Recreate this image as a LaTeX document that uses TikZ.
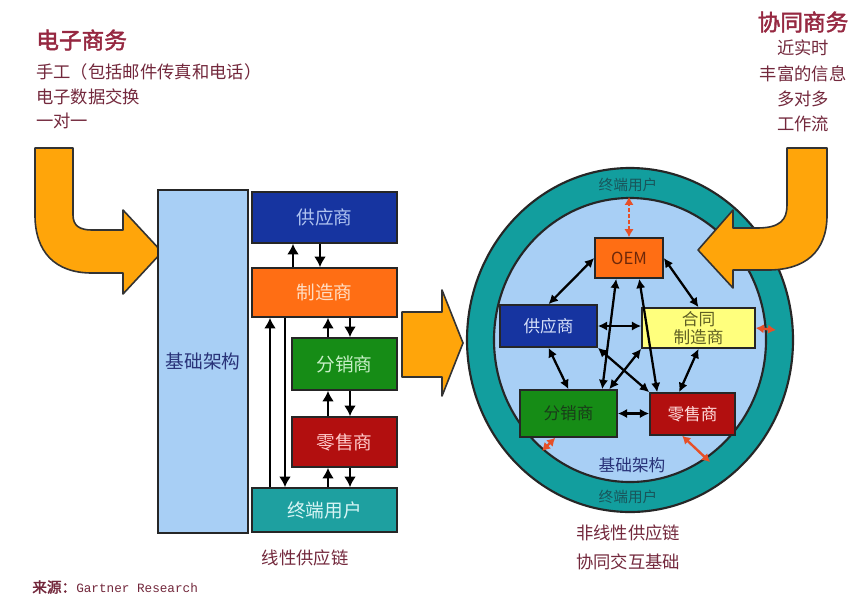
\documentclass[tikz,border=0pt]{standalone}
\usepackage{fontspec}
\setmainfont[AutoFakeBold=2]{Noto Sans CJK SC}
\setmonofont{Liberation Mono}
\usetikzlibrary{shapes.geometric,arrows.meta,fit}
\definecolor{titred}{RGB}{150,40,65}
\definecolor{txtred}{RGB}{115,40,60}
\definecolor{lblue}{RGB}{168,207,245}
\definecolor{dblue}{RGB}{22,52,160}
\definecolor{orbox}{RGB}{255,110,20}
\definecolor{grbox}{RGB}{22,140,22}
\definecolor{rdbox}{RGB}{178,15,15}
\definecolor{tlbox}{RGB}{30,160,160}
\definecolor{ringteal}{RGB}{18,158,158}
\definecolor{ylbox}{RGB}{255,255,125}
\definecolor{orarrow}{RGB}{255,165,10}
\definecolor{redsm}{RGB}{230,80,40}
\definecolor{ringtxt}{RGB}{25,85,90}
\definecolor{infra}{RGB}{40,50,120}
\newcommand\pxu[1]{#1*0.75pt}
\tikzset{
  box/.style={draw=black!85, line width=1.2pt, inner sep=0pt},
  arr/.style={line width=2.2pt, -{Latex[length=8pt,width=9pt]}},
  darr/.style={line width=1.7pt, {Latex[length=7pt,width=7pt]}-{Latex[length=7pt,width=7pt]}},
  redarr/.style={redsm, line width=1.8pt, {Latex[length=6pt,width=7pt]}-{Latex[length=6pt,width=7pt]}},
  bigarrow/.style={fill=orarrow, draw=black!80, line width=1.2pt, line join=round},
  lft/.style={anchor=west, inner sep=0pt, text=txtred, font=\fontsize{13pt}{15pt}\selectfont},
  rgt/.style={inner sep=0pt, text=txtred, font=\fontsize{13pt}{15pt}\selectfont},
  lblL/.style={font=\fontsize{14pt}{16pt}\selectfont, inner sep=0pt},
  lblC/.style={font=\fontsize{12.5pt}{14pt}\selectfont, align=center, inner sep=0pt}
}
\begin{document}
\begin{tikzpicture}[x=0.75pt,y=-0.75pt]
\useasboundingbox[fill=white] (0,0) rectangle (855,604);

% ---- top texts
\node[lft, text=titred, font=\fontsize{17pt}{19pt}\selectfont\bfseries] (ec) at (36,40) {电子商务};
\node[lft] (ec1) at (36,72) {手工（包括邮件传真和电话）};
\node[lft] (ec2) at (36,97) {电子数据交换};
\node[lft] (ec3) at (36,121) {一对一};

\node[rgt, text=titred, font=\fontsize{17pt}{19pt}\selectfont\bfseries] (cc) at (803,22) {协同商务};
\node[rgt] (cc1) at (803,48) {近实时};
\node[rgt] (cc2) at (803,74) {丰富的信息};
\node[rgt] (cc3) at (803,99) {多对多};
\node[rgt] (cc4) at (803,124) {工作流};

% ---- left orange arrow
\path[bigarrow] (35,148) -- (73,148) -- (73,215) .. controls (73,226) and (80,230) .. (92,230)
  -- (123,230) -- (123,210) -- (162,252) -- (123,294) -- (123,273) -- (92,273)
  .. controls (55,273) and (35,252) .. (35,215) -- cycle;

% ---- left panel
\node[box, fill=lblue, fit={(158,190)(248,533)}, label={[lblL, text=infra]center:基础架构}] (jc) {};
\node[box, fill=dblue, fit={(252,192)(397,243)}, label={[lblL, text={rgb,255:red,175;green,195;blue,240}]center:供应商}] (gy) {};
\node[box, fill=orbox, fit={(252,268)(397,317)}, label={[lblL, text={rgb,255:red,255;green,222;blue,195}]center:制造商}] (zz) {};
\node[box, fill=grbox, fit={(292,338)(397,390)}, label={[lblL, text={rgb,255:red,200;green,240;blue,200}]center:分销商}] (fx) {};
\node[box, fill=rdbox, fit={(292,417)(397,467)}, label={[lblL, text={rgb,255:red,255;green,200;blue,200}]center:零售商}] (ls) {};
\node[box, fill=tlbox, fit={(252,488)(397,532)}, label={[lblL, text={rgb,255:red,215;green,245;blue,245}]center:终端用户}] (zd) {};

\coordinate (c1) at (293,0); \coordinate (c2) at (320,0);
\coordinate (c3) at (328,0); \coordinate (c4) at (350,0);
\coordinate (c5) at (270,0); \coordinate (c6) at (285,0);
\draw[arr] (zz.north -| c1) -- (gy.south -| c1);
\draw[arr] (gy.south -| c2) -- (zz.north -| c2);
\draw[arr] (fx.north -| c3) -- (zz.south -| c3);
\draw[arr] (zz.south -| c4) -- (fx.north -| c4);
\draw[arr] (ls.north -| c3) -- (fx.south -| c3);
\draw[arr] (fx.south -| c4) -- (ls.north -| c4);
\draw[arr] (zd.north -| c3) -- (ls.south -| c3);
\draw[arr] (ls.south -| c4) -- (zd.north -| c4);
\draw[arr] (zd.north -| c5) -- (zz.south -| c5);
\draw[arr] (zz.south -| c6) -- (zd.north -| c6);

\node[rgt] (lin) at (305,558) {线性供应链};

% ---- middle arrow
\path[bigarrow] (402,312) -- (442,312) -- (442,290) -- (463,343) -- (442,396) -- (442,377) -- (402,377) -- cycle;

% ---- ring
\node[ellipse, draw=black!85, line width=1.6pt, fill=ringteal, minimum width=\pxu{326}, minimum height=\pxu{344}, inner sep=0pt] (ring) at (630,340) {};
\node[ellipse, draw=black!85, line width=1.6pt, fill=lblue, minimum width=\pxu{272}, minimum height=\pxu{284}, inner sep=0pt] (inner) at (630,340) {};
\node[text=ringtxt, font=\fontsize{11pt}{12pt}\selectfont] (rt) at (628,185) {终端用户};
\node[text=ringtxt, font=\fontsize{11pt}{12pt}\selectfont] (rb) at (628,497) {终端用户};

% ---- right orange arrow
\path[bigarrow] (787,148) -- (827,148) -- (827,215) .. controls (827,252) and (805,270) .. (768,270)
  -- (733,270) -- (733,288) -- (698,250) -- (733,210) -- (733,228) -- (757,228)
  .. controls (780,228) and (787,220) .. (787,205) -- cycle;

% ---- inner boxes
\node[box, fill=orbox, fit={(595,238)(663,278)}, label={[lblC, text={rgb,255:red,110;green,40;blue,10}]center:OEM}] (oem) {};
\node[box, fill=dblue, fit={(500,305)(597,347)}, label={[lblC, text={rgb,255:red,215;green,225;blue,250}]center:供应商}] (gy2) {};
\node[box, fill=ylbox, fit={(642,308)(755,348)}] (hz) {};
\node[lblC, font=\fontsize{12.5pt}{14pt}\selectfont, text={rgb,255:red,95;green,95;blue,35}] (hzt) at (hz.center) {合同\\制造商};
\node[box, fill=grbox, fit={(520,390)(617,437)}, label={[lblC, text={rgb,255:red,25;green,60;blue,25}]center:分销商}] (fx2) {};
\node[box, fill=rdbox, fit={(650,393)(735,435)}, label={[lblC, text={rgb,255:red,255;green,220;blue,220}]center:零售商}] (ls2) {};
\node[text=infra, font=\fontsize{12.5pt}{14pt}\selectfont] (jc2) at (632,465) {基础架构};

% ---- network
\draw[darr] (oem.west) -- (gy2.north);
\draw[darr] (oem.east) -- (hz.north);
\draw[darr] ([xshift=\pxu{22}]oem.south west) -- ([xshift=\pxu{83}]fx2.north west);
\draw[darr] ([xshift=\pxu{45}]oem.south west) -- ([xshift=\pxu{8}]ls2.north west);
\draw[darr] (gy2.east) -- (gy2.east -| hz.west);
\draw[darr] (gy2.south) -- (fx2.north);
\draw[darr] (hz.south) -- ([xshift=\pxu{30}]ls2.north west);
\draw[darr] (gy2.south east) -- (ls2.north west);
\draw[darr] (hz.south west) -- ([xshift=\pxu{90}]fx2.north west);
\draw[darr] (fx2.east) -- (fx2.east -| ls2.west);

% ---- red links to the ring
\draw[redarr, dashed, dash pattern=on 3pt off 1.5pt] (oem.north) -- (oem.north |- inner.north);
\coordinate (hzR) at (776,330);
\draw[redarr] (hz.east) -- (hzR);
\coordinate (fxR) at (542,451);
\draw[redarr] ([xshift=\pxu{36}]fx2.south west) -- (fxR);
\coordinate (lsR) at (710,462);
\draw[redarr] ([xshift=\pxu{33}]ls2.south west) -- (lsR);

% ---- bottom texts
\node[rgt] (nl1) at (628,533) {非线性供应链};
\node[rgt] (nl2) at (628,562) {协同交互基础};
\node[anchor=west, inner sep=0pt, text=txtred] (src) at (32,587) {{\fontsize{11pt}{12pt}\selectfont\bfseries 来源：}{\ttfamily\fontsize{9.5pt}{11pt}\selectfont Gartner Research}};
\end{tikzpicture}
\end{document}
